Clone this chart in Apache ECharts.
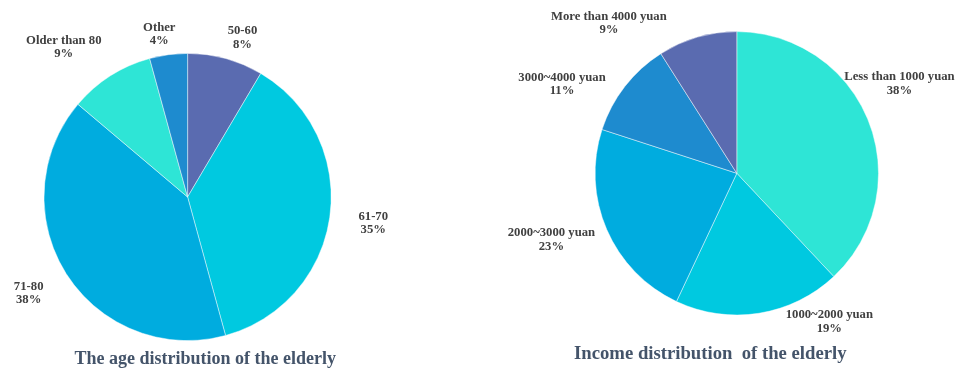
<!DOCTYPE html>
<html>
<head>
<meta charset="utf-8">
<script src="https://cdn.jsdelivr.net/npm/echarts@6/dist/echarts.min.js"></script>
<style>
  html, body { margin: 0; padding: 0; background: #ffffff; }
  #chart { width: 957px; height: 370px; }
</style>
</head>
<body>
<div id="chart"></div>
<script>
// Age groups of the elderly and their shares (%)
const ageGroups = ['50-60', '61-70', '71-80', 'Older than 80', 'Other'];
const agePercent = [8, 35, 38, 9, 4];

// Monthly income groups and their shares (%)
const incomeGroups = ['Less than 1000 yuan', '1000~2000 yuan', '2000~3000 yuan', '3000~4000 yuan', 'More than 4000 yuan'];
const incomePercent = [38, 19, 23, 11, 9];

const ageColors = ['#5A6BB0', '#00C9E0', '#00ACDF', '#2EE5D6', '#1E8BCF'];
const incomeColors = ['#2EE5D6', '#00C9E0', '#00ACDF', '#1E8BCF', '#5A6BB0'];

// Label placement: nudge (px) from the point just outside each slice's mid-angle
const ageLabelNudge = [[9, 8], [13.6, 3], [-12.6, 3], [-30.4, -3.3], [-5.2, 9.2]];
const incomeLabelNudge = [[3, -26.4], [65.7, -21.2], [-27.8, -1.8], [-39.1, 16.4], [-80, 14.9]];

const SERIF = '"Liberation Serif", "Times New Roman", serif';
const LABEL_GAP = 30;

function midDirections(values) {
  const total = values.reduce((a, b) => a + b, 0);
  let acc = 0;
  return values.map(v => {
    const mid = (acc + v / 2) / total * Math.PI * 2;
    acc += v;
    return [Math.sin(mid), -Math.cos(mid)];
  });
}

function pieSeries(names, values, colors, center, radius, nudges) {
  const dirs = midDirections(values);
  return {
    type: 'pie',
    center: center,
    radius: radius,
    startAngle: 90,
    clockwise: true,
    avoidLabelOverlap: false,
    silent: true,
    data: names.map((n, i) => ({ name: n, value: values[i], itemStyle: { color: colors[i] } })),
    itemStyle: { borderWidth: 1, borderColor: 'rgba(255,255,255,0.45)' },
    label: {
      show: true,
      position: 'outside',
      formatter: '{b}\n{c}%',
      fontFamily: SERIF,
      fontWeight: 'bold',
      fontSize: 12.7,
      lineHeight: 13.5,
      color: '#404040'
    },
    labelLine: { show: false },
    labelLayout: function (p) {
      const d = dirs[p.dataIndex];
      const s = nudges[p.dataIndex];
      return {
        x: center[0] + d[0] * (radius + LABEL_GAP) + s[0],
        y: center[1] + d[1] * (radius + LABEL_GAP) + s[1],
        align: 'center',
        verticalAlign: 'middle'
      };
    }
  };
}

const chart = echarts.init(document.getElementById('chart'));
chart.setOption({
  animation: false,
  backgroundColor: '#ffffff',
  series: [
    pieSeries(ageGroups, agePercent, ageColors, [187.6, 197], 143.6, ageLabelNudge),
    pieSeries(incomeGroups, incomePercent, incomeColors, [736.8, 173.3], 141.7, incomeLabelNudge)
  ],
  graphic: [
    {
      type: 'text', x: 205.3, y: 359.3,
      style: {
        text: 'The age distribution of the elderly',
        fontFamily: SERIF, fontWeight: 'bold', fontSize: 18,
        fill: '#44546A', align: 'center', verticalAlign: 'middle'
      }
    },
    {
      type: 'text', x: 710.3, y: 354,
      style: {
        text: 'Income distribution  of the elderly',
        fontFamily: SERIF, fontWeight: 'bold', fontSize: 18.7,
        fill: '#44546A', align: 'center', verticalAlign: 'middle'
      }
    }
  ]
});
</script>
</body>
</html>
